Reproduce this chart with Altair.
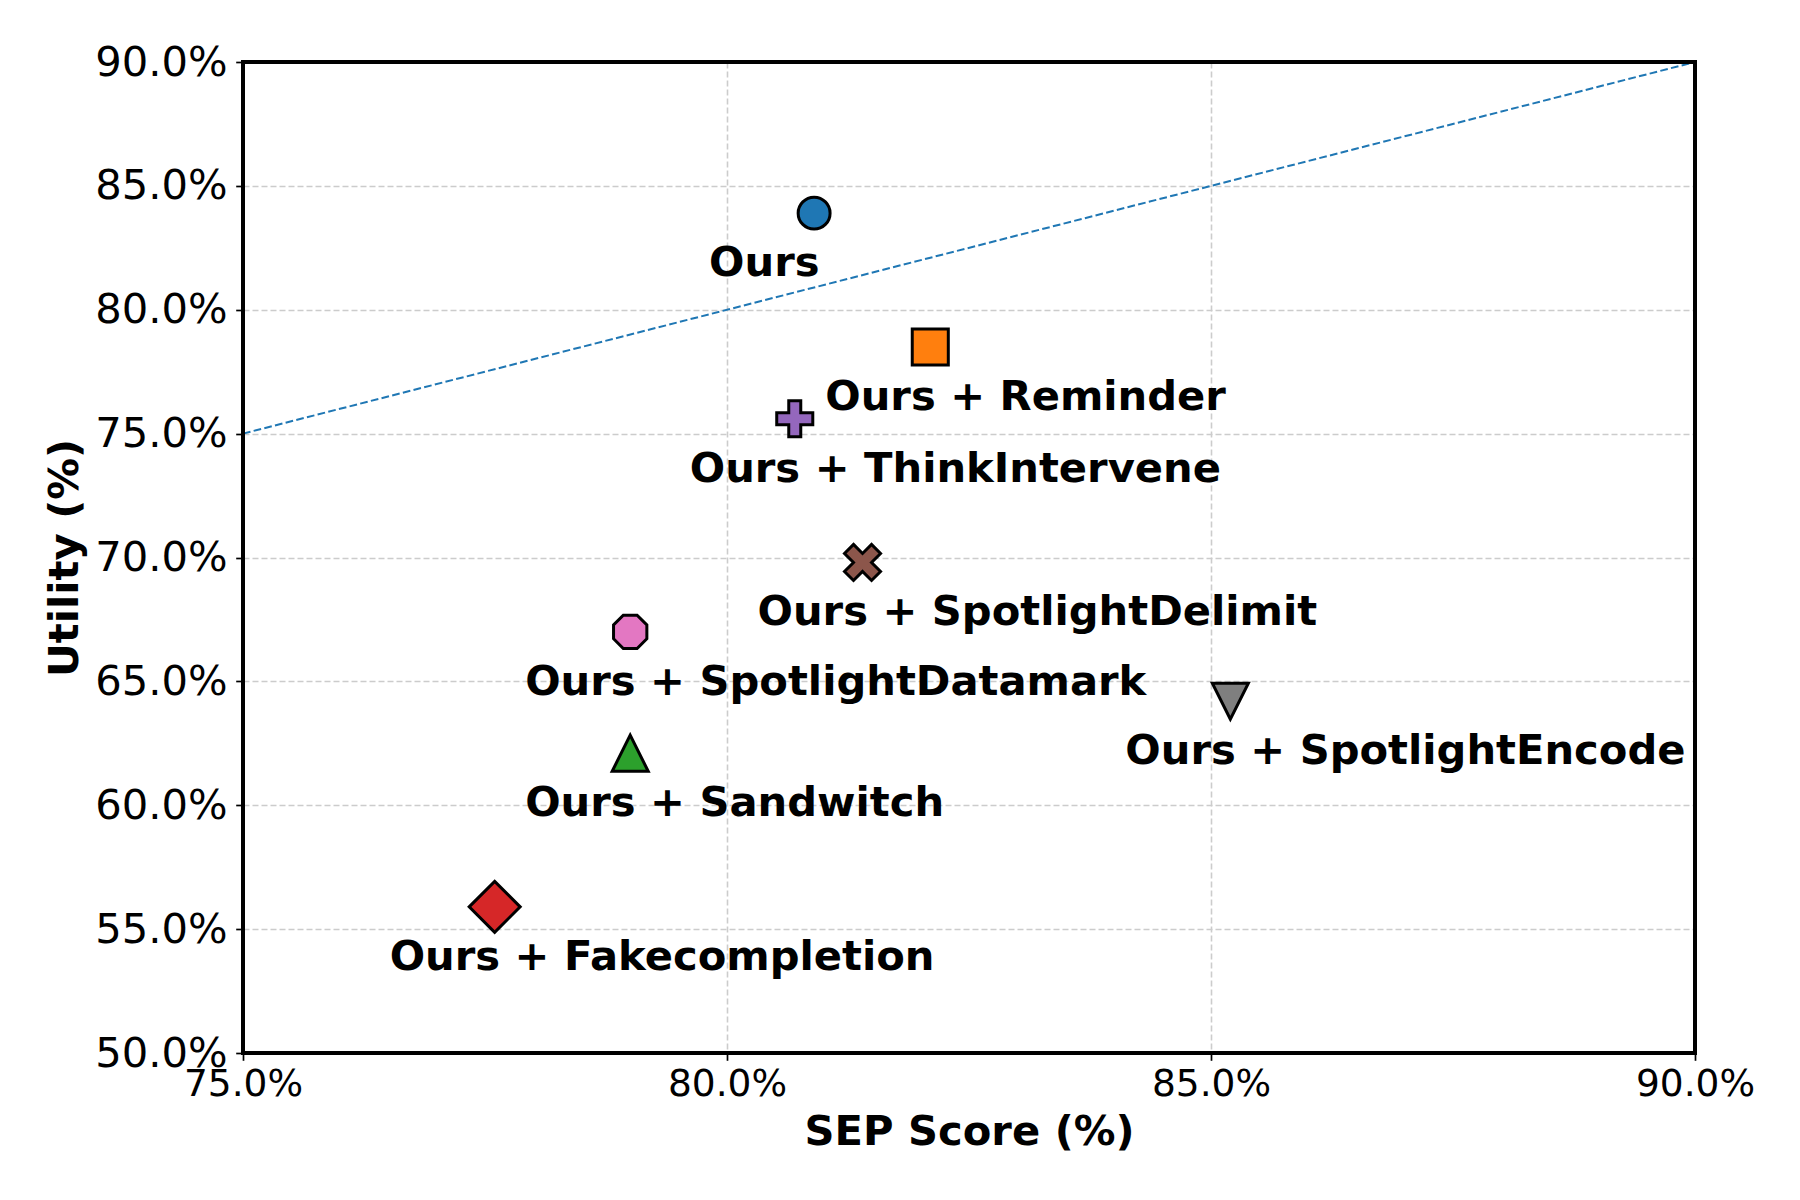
import altair as alt
import pandas as pd

# ---- data ----
methods = [
    "Ours",
    "Ours + Reminder",
    "Ours + ThinkIntervene",
    "Ours + SpotlightDelimit",
    "Ours + SpotlightDatamark",
    "Ours + SpotlightEncode",
    "Ours + Sandwitch",
    "Ours + Fakecompletion",
]
sep_score = [80.9, 82.1, 80.7, 81.4, 79.0, 85.2, 79.0, 77.6]
utility = [83.9, 78.5, 75.6, 69.8, 67.0, 64.2, 62.1, 55.9]

x_ticks = [75, 80, 85, 90]
y_ticks = [50, 55, 60, 65, 70, 75, 80, 85, 90]
diag_x = [75, 90]
diag_y = [75, 90]

# ---- styles ----
colors = ["#1f77b4", "#ff7f0e", "#9467bd", "#8c564b", "#e377c2", "#7f7f7f", "#2ca02c", "#d62728"]
PLUS = "M-0.333,-1L0.333,-1L0.333,-0.333L1,-0.333L1,0.333L0.333,0.333L0.333,1L-0.333,1L-0.333,0.333L-1,0.333L-1,-0.333L-0.333,-0.333Z"
XFILL = "M-0.5,-1L0,-0.5L0.5,-1L1,-0.5L0.5,0L1,0.5L0.5,1L0,0.5L-0.5,1L-1,0.5L-0.5,0L-1,-0.5Z"
OCT = "M0.924,0.383L0.383,0.924L-0.383,0.924L-0.924,0.383L-0.924,-0.383L-0.383,-0.924L0.383,-0.924L0.924,-0.383Z"
TRI_UP = "M0,-1L1,1L-1,1Z"
TRI_DOWN = "M0,1L-1,-1L1,-1Z"
DIAMOND = "M0,-1L1,0L0,1L-1,0Z"
shapes = ["circle", "square", PLUS, XFILL, OCT, TRI_DOWN, TRI_UP, DIAMOND]
sizes = [1020, 1300, 1300, 1300, 1300, 1300, 1300, 2600]

FONT = "DejaVu Sans"
FS = 41.67
W, H = 1452, 991

df = pd.DataFrame({
    "method": methods, "x": sep_score, "y": utility,
    "color": colors, "shape": shapes, "size": sizes,
})
diag = pd.DataFrame({"x": diag_x, "y": diag_y})

x_scale = alt.Scale(domain=[75, 90], nice=False, zero=False)
y_scale = alt.Scale(domain=[50, 90], nice=False, zero=False)

x_axis = alt.Axis(
    title="SEP Score (%)", values=x_ticks,
    labelExpr="format(datum.value, '.1f') + '%'",
    labelFontSize=37.5, labelPadding=4.7, titlePadding=9,
    labelFlush=False, labelOverlap=False,
)
y_axis = alt.Axis(
    title="Utility (%)", values=y_ticks,
    labelExpr="format(datum.value, '.1f') + '%'",
    labelFontSize=FS, labelPadding=8.5, labelOffset=0, titlePadding=8,
    labelFlush=False, labelOverlap=False,
)

X = alt.X("x:Q", scale=x_scale, axis=x_axis)
Y = alt.Y("y:Q", scale=y_scale, axis=y_axis)

line = alt.Chart(diag).mark_line(
    color="#1f77b4", strokeWidth=2, strokeDash=[7.7, 3.3]
).encode(x=X, y=Y)

points = alt.Chart(df).mark_point(
    filled=True, opacity=1, stroke="black", strokeWidth=3
).encode(
    x=X, y=Y,
    fill=alt.Fill("color:N", scale=None),
    shape=alt.Shape("shape:N", scale=None),
    size=alt.Size("size:Q", scale=None),
)

labels = alt.Chart(df).mark_text(
    font=FONT, fontWeight="bold", fontSize=FS, color="black",
    align="left", baseline="alphabetic", dx=-105, dy=63,
).encode(x=X, y=Y, text="method:N")

frame = alt.Chart(pd.DataFrame({"k": [0]})).mark_rect(
    fill=None, stroke="black", strokeWidth=4
).encode(
    x=alt.value(0), x2=alt.value(W), y=alt.value(0), y2=alt.value(H)
)

chart = alt.layer(line, points, labels, frame).properties(
    width=W, height=H,
    autosize=alt.AutoSizeParams(type="none"),
    padding={"left": 235, "top": 54, "right": 97, "bottom": 139},
).configure_view(
    stroke=None
).configure_axis(
    grid=True, gridColor="#cccccc", gridDash=[6, 3], gridWidth=1.6,
    domain=False, ticks=True, tickSize=7.3, tickWidth=1.7, tickColor="black",
    labelFont=FONT, labelColor="black",
    titleFont=FONT, titleFontSize=FS, titleFontWeight="bold", titleColor="black",
)

chart.save("out.html", embed_options={"renderer": "svg", "actions": False})
